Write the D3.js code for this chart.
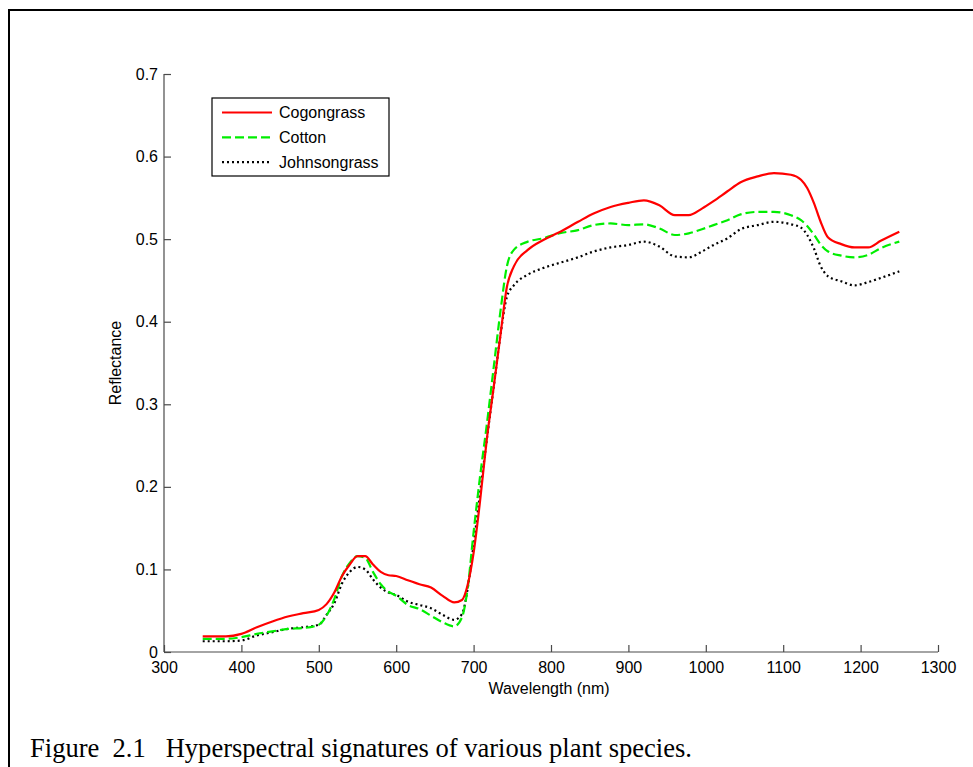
<!DOCTYPE html>
<html>
<head>
<meta charset="utf-8">
<script src="https://cdn.jsdelivr.net/npm/d3@7"></script>
<style>
  body { margin: 0; background: #fff; }
  svg { display: block; }
</style>
</head>
<body>
<div id="chart"></div>
<script>
// wavelength samples (nm) shared by all three spectra
const wavelengths = [350, 380, 400, 420, 440, 460, 480, 500, 510, 520, 530, 540, 550, 560, 570, 580, 590, 600, 615, 630,
  645, 660, 675, 685, 692, 700, 708, 717, 726, 735, 743, 752, 770, 790, 810, 835, 855, 877, 900, 920,
  940, 960, 978, 995, 1010, 1028, 1045, 1067, 1088, 1110, 1123, 1131, 1140, 1148, 1158, 1175, 1192, 1210, 1226, 1250];

const cogongrass = [0.019, 0.019, 0.022, 0.030, 0.037, 0.043, 0.047, 0.051, 0.058, 0.072, 0.092, 0.106, 0.116, 0.116, 0.106, 0.097, 0.093, 0.092, 0.087, 0.082,
  0.078, 0.068, 0.060, 0.063, 0.080, 0.120, 0.180, 0.257, 0.321, 0.386, 0.442, 0.467, 0.487, 0.499, 0.508, 0.521, 0.531, 0.539, 0.544, 0.547,
  0.541, 0.529, 0.529, 0.537, 0.546, 0.558, 0.569, 0.576, 0.580, 0.578, 0.572, 0.562, 0.543, 0.522, 0.502, 0.494, 0.490, 0.490, 0.498, 0.509];

const cotton = [0.016, 0.016, 0.018, 0.022, 0.025, 0.028, 0.029, 0.033, 0.044, 0.064, 0.092, 0.108, 0.116, 0.114, 0.097, 0.082, 0.073, 0.068, 0.057, 0.052,
  0.044, 0.036, 0.031, 0.042, 0.075, 0.145, 0.210, 0.275, 0.345, 0.415, 0.467, 0.487, 0.497, 0.501, 0.507, 0.511, 0.517, 0.519, 0.517, 0.518,
  0.513, 0.505, 0.507, 0.512, 0.517, 0.523, 0.530, 0.533, 0.533, 0.529, 0.523, 0.516, 0.505, 0.494, 0.485, 0.480, 0.478, 0.481, 0.489, 0.497];

const johnsongrass = [0.013, 0.013, 0.014, 0.020, 0.024, 0.028, 0.030, 0.033, 0.045, 0.059, 0.083, 0.097, 0.103, 0.100, 0.088, 0.078, 0.072, 0.069, 0.061, 0.057,
  0.053, 0.045, 0.039, 0.046, 0.075, 0.130, 0.190, 0.257, 0.321, 0.386, 0.430, 0.444, 0.457, 0.465, 0.471, 0.478, 0.485, 0.490, 0.493, 0.497,
  0.491, 0.479, 0.478, 0.485, 0.493, 0.501, 0.512, 0.517, 0.521, 0.518, 0.514, 0.505, 0.488, 0.468, 0.455, 0.449, 0.444, 0.448, 0.453, 0.461];

const seriesNames = ["Cogongrass", "Cotton", "Johnsongrass"];
const xTicks = [300, 400, 500, 600, 700, 800, 900, 1000, 1100, 1200, 1300];
const yTicks = [0, 0.1, 0.2, 0.3, 0.4, 0.5, 0.6, 0.7];

const W = 973, H = 767;
const svg = d3.select("#chart").append("svg").attr("width", W).attr("height", H);
const font = "'Liberation Sans', Arial, sans-serif";
const fs = 16;

// outer figure frame (runs off the right/bottom edge)
svg.append("rect").attr("x", 9).attr("y", 10).attr("width", W + 20).attr("height", H + 20)
  .attr("fill", "none").attr("stroke", "#000").attr("stroke-width", 2);

const x = d3.scaleLinear().domain([300, 1300]).range([164, 938]);
const y = d3.scaleLinear().domain([0, 0.7]).range([652, 74]);

const axisColor = "#4a4a4a";
const xAxis = svg.append("g").attr("transform", `translate(0,${y(0)})`)
  .call(d3.axisBottom(x).tickValues(xTicks).tickSize(-7).tickPadding(10).tickFormat(d3.format("d")));
const yAxis = svg.append("g").attr("transform", `translate(${x(300)},0)`)
  .call(d3.axisLeft(y).tickValues(yTicks).tickSize(-7).tickPadding(6).tickFormat((d) => d === 0 ? "0" : d3.format(".1f")(d)));

[xAxis, yAxis].forEach((g) => {
  g.attr("font-size", fs).attr("font-family", font);
  g.select(".domain").attr("stroke", axisColor).attr("stroke-width", 1.2);
  g.selectAll(".tick line").attr("stroke", axisColor).attr("stroke-width", 1.2);
  g.selectAll(".tick text").attr("fill", "#000");
});
// plain axis lines, no outer end caps
yAxis.select(".domain").attr("d", `M0,${y(0.7)}V${y(0)}`);
xAxis.select(".domain").attr("d", `M${x(300)},0H${x(1300)}`);

svg.append("text").attr("x", 549).attr("y", 694).attr("text-anchor", "middle")
  .attr("font-family", font).attr("font-size", fs).text("Wavelength (nm)");
svg.append("text").attr("transform", "translate(121,363) rotate(-90)").attr("text-anchor", "middle")
  .attr("font-family", font).attr("font-size", fs).text("Reflectance");

const styles = [
  { color: "#ff0000", dash: null, width: 2.2 },
  { color: "#00ee00", dash: "9,4", width: 2.2 },
  { color: "#000000", dash: "2,3", width: 2.2 },
];
const data = [cogongrass, cotton, johnsongrass];

const line = d3.line().x((d) => x(d[0])).y((d) => y(d[1])).curve(d3.curveMonotoneX);

// draw in reverse order so the red line sits on top
[2, 1, 0].forEach((i) => {
  const pts = wavelengths.map((w, k) => [w, data[i][k]]);
  svg.append("path").datum(pts).attr("d", line)
    .attr("fill", "none").attr("stroke", styles[i].color).attr("stroke-width", styles[i].width)
    .attr("stroke-dasharray", styles[i].dash);
});

// legend
const lg = svg.append("g");
lg.append("rect").attr("x", 212).attr("y", 98).attr("width", 177).attr("height", 78)
  .attr("fill", "#fff").attr("stroke", "#000").attr("stroke-width", 1.2);
seriesNames.forEach((name, i) => {
  const ly = 112.5 + i * 24.8;
  lg.append("line").attr("x1", 222).attr("x2", 272).attr("y1", ly).attr("y2", ly)
    .attr("stroke", styles[i].color).attr("stroke-width", styles[i].width).attr("stroke-dasharray", styles[i].dash);
  lg.append("text").attr("x", 279).attr("y", ly + 5.5).attr("font-family", font).attr("font-size", fs).text(name);
});

// caption
svg.append("text").attr("x", 30).attr("y", 757).attr("font-family", "'Liberation Serif', 'Times New Roman', serif")
  .attr("font-size", 27).attr("textLength", 662).attr("lengthAdjust", "spacingAndGlyphs")
  .style("white-space", "pre")
  .text("Figure  2.1   Hyperspectral signatures of various plant species.");
</script>
</body>
</html>
